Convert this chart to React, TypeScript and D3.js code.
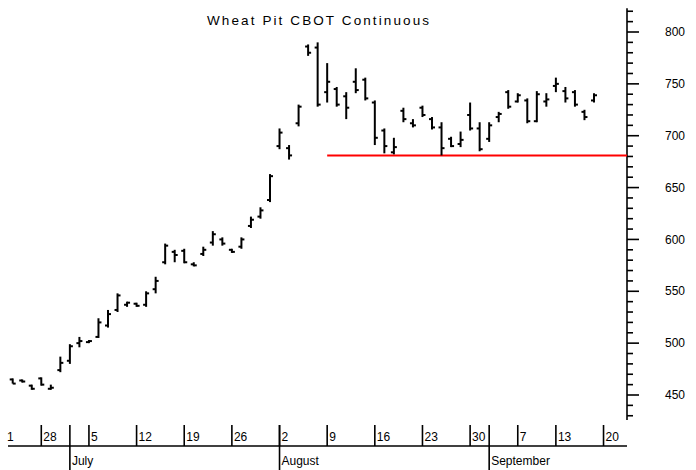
import React from 'react'
import * as d3 from 'd3'

// trading-day index 0 = Mon 21 June; bars run from day 2 to day 63
const firstDay = 2
const highs = [466, 465, 460, 467, 460, 487, 499, 506, 503, 524,
  532, 548, 540, 539, 550, 564, 596, 590, 591, 578,
  593, 608, 602, 591, 602, 622, 631, 663, 707, 691,
  730, 788, 790, 770, 747, 742, 765, 756, 734, 707,
  698, 727, 716, 729, 718, 713, 699, 704, 732, 713,
  713, 723, 744, 741, 736, 743, 741, 756, 747, 744,
  725, 741]
const lows = [461, 462, 455, 459, 455, 472, 480, 496, 500, 505,
  515, 530, 535, 535, 535, 548, 576, 578, 577, 574,
  584, 594, 594, 587, 591, 611, 620, 636, 687, 677,
  709, 777, 728, 732, 728, 716, 741, 734, 691, 683,
  682, 713, 708, 718, 706, 681, 689, 689, 705, 685,
  694, 713, 726, 732, 712, 713, 728, 742, 732, 728,
  715, 732]
const opens = [465, 464, 459, 466, 456, 474, 483, 500, 501, 506,
  517, 532, 537, 538, 537, 552, 578, 588, 589, 576,
  586, 597, 600, 590, 593, 613, 622, 638, 690, 688,
  712, 786, 785, 742, 745, 738, 752, 754, 732, 705,
  684, 724, 712, 727, 716, 708, 697, 692, 720, 707,
  697, 718, 742, 733, 734, 714, 733, 748, 743, 742,
  723, 734]
const closes = [461, 463, 456, 460, 457, 481, 497, 502, 502, 520,
  528, 546, 539, 536, 548, 560, 594, 585, 578, 575,
  590, 605, 596, 588, 600, 619, 628, 661, 703, 681,
  728, 780, 730, 752, 730, 727, 744, 736, 698, 690,
  689, 716, 710, 720, 708, 688, 690, 696, 707, 687,
  710, 721, 728, 739, 714, 740, 735, 750, 736, 730,
  718, 739]

// first week label is cut to "1" at the left edge in the original
const weekDays = [0, 5, 10, 15, 20, 25, 30, 35, 40, 45, 50, 55, 59, 64]
const weekLabels = ['1', '28', '5', '12', '19', '26', '2', '9', '16', '23', '30', '7', '13', '20']
const monthDays = [8, 30, 52]
const monthLabels = ['July', 'August', 'September']
const priceTicks = [450, 500, 550, 600, 650, 700, 750, 800]
const supportLevel = 681
const supportFrom = 35

const App = () => {
  const width = 696
  const height = 470
  const axisX = 627
  const baseY = 446

  const x = d3.scaleLinear().domain([2, 63]).range([12.7, 594])
  const y = d3.scaleLinear().domain([450, 800]).range([395, 32])

  const minor = d3.range(430, 821, 10).filter(v => v % 50 !== 0)

  const font = '"Liberation Sans", Arial, sans-serif'

  return (
    <svg width={width} height={height}
      style={{ position: 'absolute', left: 0, top: 0, background: '#fff' }}
      fontFamily={font} fontSize={12}>
      <text x={318} y={25} textAnchor="middle" fontSize={13.5} textLength={222} lengthAdjust="spacing">
        Wheat Pit CBOT Continuous
      </text>

      {/* price axis on the right */}
      <g stroke="#000" strokeWidth={1.6}>
        <line x1={axisX} x2={axisX} y1={y(823)} y2={y(426)} />
        {priceTicks.map(v => (
          <line key={v} x1={axisX} x2={axisX + 12} y1={y(v)} y2={y(v)} />
        ))}
        {minor.map(v => (
          <line key={v} x1={axisX} x2={axisX + 6} y1={y(v)} y2={y(v)} />
        ))}
      </g>
      {priceTicks.map(v => (
        <text key={v} x={665} y={y(v)} dy="0.35em">{v}</text>
      ))}

      {/* date axis */}
      <g stroke="#000" strokeWidth={1.6}>
        <line x1={8} x2={axisX} y1={baseY} y2={baseY} />
        {weekDays.map(d => (
          <line key={d} x1={x(d)} x2={x(d)} y1={425} y2={baseY} />
        ))}
        {monthDays.map(d => (
          <line key={d} x1={x(d)} x2={x(d)} y1={425} y2={height} />
        ))}
      </g>
      {weekDays.map((d, i) => (
        <text key={d} x={i === 0 ? 7 : x(d) + 2} y={441}>{weekLabels[i]}</text>
      ))}
      {monthDays.map((d, i) => (
        <text key={d} x={x(d) + 2} y={465}>{monthLabels[i]}</text>
      ))}

      {/* support line */}
      <line x1={x(supportFrom)} x2={axisX} y1={y(supportLevel)} y2={y(supportLevel)}
        stroke="#ff0000" strokeWidth={2} />

      {/* OHLC bars */}
      <g stroke="#000" strokeWidth={2}>
        {highs.map((h, i) => {
          const cx = x(firstDay + i)
          return (
            <g key={i}>
              <line x1={cx} x2={cx} y1={y(h)} y2={y(lows[i])} />
              <line x1={cx - 3} x2={cx} y1={y(opens[i])} y2={y(opens[i])} />
              <line x1={cx} x2={cx + 3} y1={y(closes[i])} y2={y(closes[i])} />
            </g>
          )
        })}
      </g>
    </svg>
  )
}

export default App
